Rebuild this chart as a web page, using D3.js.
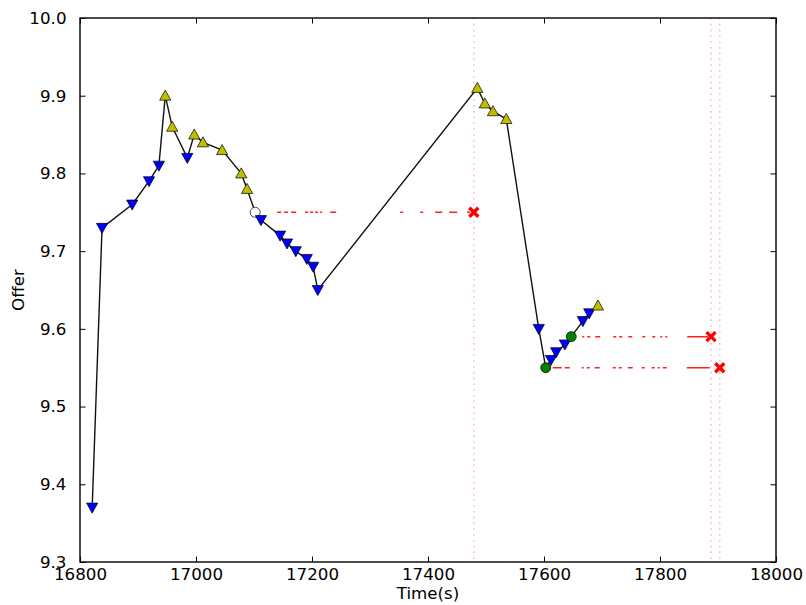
<!DOCTYPE html>
<html>
<head>
<meta charset="utf-8">
<script src="https://cdn.jsdelivr.net/npm/d3@7"></script>
<style>
  body { margin: 0; background: #fff; }
  svg text { font-family: "DejaVu Sans", sans-serif; }
</style>
</head>
<body>
<div id="chart"></div>
<script>
// offer trace (time in s, offer value, marker kind)
const times = [16821, 16838, 16890, 16919, 16936, 16947, 16959, 16985, 16997, 17012,
  17045, 17078, 17088, 17102, 17112, 17145, 17157, 17172, 17191, 17202,
  17210, 17485, 17498, 17512, 17535, 17591, 17603, 17612, 17621, 17636,
  17647, 17667, 17678, 17693];
const offers = [9.37, 9.73, 9.76, 9.79, 9.81, 9.90, 9.86, 9.82, 9.85, 9.84,
  9.83, 9.80, 9.78, 9.75, 9.74, 9.72, 9.71, 9.70, 9.69, 9.68,
  9.65, 9.91, 9.89, 9.88, 9.87, 9.60, 9.55, 9.56, 9.57, 9.58,
  9.59, 9.61, 9.62, 9.63];
const kinds = ["down", "down", "down", "down", "down", "up", "up", "down", "up", "up",
  "up", "up", "up", "open", "down", "down", "down", "down", "down", "down",
  "down", "up", "up", "up", "up", "down", "fill", "down", "down", "down",
  "fill", "down", "down", "up"];

// pending offers: start time, expiry time, level
const pendStart = [17102, 17647, 17603];
const pendEnd = [17479, 17888, 17903];
const pendLevel = [9.75, 9.59, 9.55];

const xTicks = [16800, 17000, 17200, 17400, 17600, 17800, 18000];
const yTicks = [9.3, 9.4, 9.5, 9.6, 9.7, 9.8, 9.9, 10.0];

const w = 806, h = 605;
const margin = { left: 80, right: 30, top: 18, bottom: 43 };
const fontSize = 16.7;

const svg = d3.select("#chart").append("svg")
  .attr("width", w).attr("height", h);

const xScale = d3.scaleLinear().domain([16800, 18000]).range([margin.left, w - margin.right]);
const yScale = d3.scaleLinear().domain([9.3, 10.0]).range([h - margin.bottom, margin.top]);

// vertical expiry markers
svg.append("g").selectAll("line")
  .data(pendEnd)
  .join("line")
  .attr("x1", d => xScale(d)).attr("x2", d => xScale(d))
  .attr("y1", margin.top).attr("y2", h - margin.bottom)
  .attr("stroke", "#ffb0bd")
  .attr("stroke-width", 1.4)
  .attr("stroke-dasharray", "1.6,4.2");

// broken dash-dot lines for the pending offers
const dashes = [
  "0,22,4,3,4,3,5,9,3,2,3,2,3,2,2,8,6,64,3,17,3,12,7,7,8,10,3,10",
  "0,11,2,3,3,5,5,13,3,3,3,6,4,10,3,7,3,5,2,3,2,20,21,10",
  "0,7,9,3,5,12,2,3,3,5,5,13,3,3,3,6,5,9,3,7,3,3,2,3,4,20,23,10"
];
svg.append("g").selectAll("line")
  .data(pendStart.map((s, i) => ({ s, e: pendEnd[i], v: pendLevel[i], i })))
  .join("line")
  .attr("x1", d => xScale(d.s)).attr("x2", d => xScale(d.e))
  .attr("y1", d => yScale(d.v)).attr("y2", d => yScale(d.v))
  .attr("stroke", "#ff2020")
  .attr("stroke-width", 1.5)
  .attr("stroke-dasharray", d => dashes[d.i]);

const data = times.map((t, i) => ({ t, v: offers[i], k: kinds[i] }));

const line = d3.line().x(d => xScale(d.t)).y(d => yScale(d.v));
svg.append("path")
  .datum(data)
  .attr("fill", "none")
  .attr("stroke", "#111")
  .attr("stroke-width", 1.4)
  .attr("d", line);

// markers
const tri = 5.6;
const markerPath = (k) => {
  if (k === "up") return `M0,${-tri} L${tri},${tri * 0.8} L${-tri},${tri * 0.8} Z`;
  return `M0,${tri} L${tri},${-tri * 0.8} L${-tri},${-tri * 0.8} Z`;
};
const fills = { up: "#bfbf00", down: "#0000ff", open: "#ffffff", fill: "#008000" };

svg.append("g").selectAll("g")
  .data(data)
  .join("g")
  .attr("transform", d => `translate(${xScale(d.t)},${yScale(d.v)})`)
  .each(function (d) {
    const g = d3.select(this);
    if (d.k === "open" || d.k === "fill") {
      g.append("circle").attr("r", 5)
        .attr("fill", fills[d.k]).attr("stroke", "#000").attr("stroke-width", 0.7);
    } else {
      g.append("path").attr("d", markerPath(d.k))
        .attr("fill", fills[d.k]).attr("stroke", "#000").attr("stroke-width", 0.7);
    }
  });

// red x at expiry
svg.append("g").selectAll("path")
  .data(pendEnd.map((e, i) => ({ e, v: pendLevel[i] })))
  .join("path")
  .attr("transform", d => `translate(${xScale(d.e)},${yScale(d.v)})`)
  .attr("d", "M-4.5,-4.5 L4.5,4.5 M-4.5,4.5 L4.5,-4.5")
  .attr("stroke", "#ff0000")
  .attr("stroke-width", 3.4)
  .attr("fill", "none");

// axes, ticks inside on all sides
const tickLen = 5.5;
const xAxis = svg.append("g")
  .attr("transform", `translate(0,${h - margin.bottom})`)
  .call(d3.axisBottom(xScale).tickValues(xTicks).tickSizeInner(-tickLen).tickSizeOuter(0)
    .tickPadding(tickLen + 1).tickFormat(d3.format("d")));
const xAxisTop = svg.append("g")
  .attr("transform", `translate(0,${margin.top})`)
  .call(d3.axisTop(xScale).tickValues(xTicks).tickSizeInner(-tickLen).tickSizeOuter(0).tickFormat(""));
const yAxis = svg.append("g")
  .attr("transform", `translate(${margin.left},0)`)
  .call(d3.axisLeft(yScale).tickValues(yTicks).tickSizeInner(-tickLen).tickSizeOuter(0)
    .tickPadding(tickLen + 8).tickFormat(d3.format(".1f")));
const yAxisRight = svg.append("g")
  .attr("transform", `translate(${w - margin.right},0)`)
  .call(d3.axisRight(yScale).tickValues(yTicks).tickSizeInner(-tickLen).tickSizeOuter(0).tickFormat(""));

[xAxis, xAxisTop, yAxis, yAxisRight].forEach(a => {
  a.select(".domain").remove();
  a.selectAll("line").attr("stroke", "#000").attr("stroke-width", 1);
  a.selectAll("text").attr("fill", "#000").attr("font-size", fontSize);
});

// frame
svg.append("rect")
  .attr("x", margin.left).attr("y", margin.top)
  .attr("width", w - margin.left - margin.right)
  .attr("height", h - margin.top - margin.bottom)
  .attr("fill", "none").attr("stroke", "#000").attr("stroke-width", 1.4);

svg.append("text")
  .attr("x", (margin.left + w - margin.right) / 2)
  .attr("y", h - 6)
  .attr("text-anchor", "middle")
  .attr("font-size", fontSize)
  .text("Time(s)");

svg.append("text")
  .attr("transform", `translate(24,${(margin.top + h - margin.bottom) / 2}) rotate(-90)`)
  .attr("text-anchor", "middle")
  .attr("font-size", fontSize)
  .text("Offer");
</script>
</body>
</html>
